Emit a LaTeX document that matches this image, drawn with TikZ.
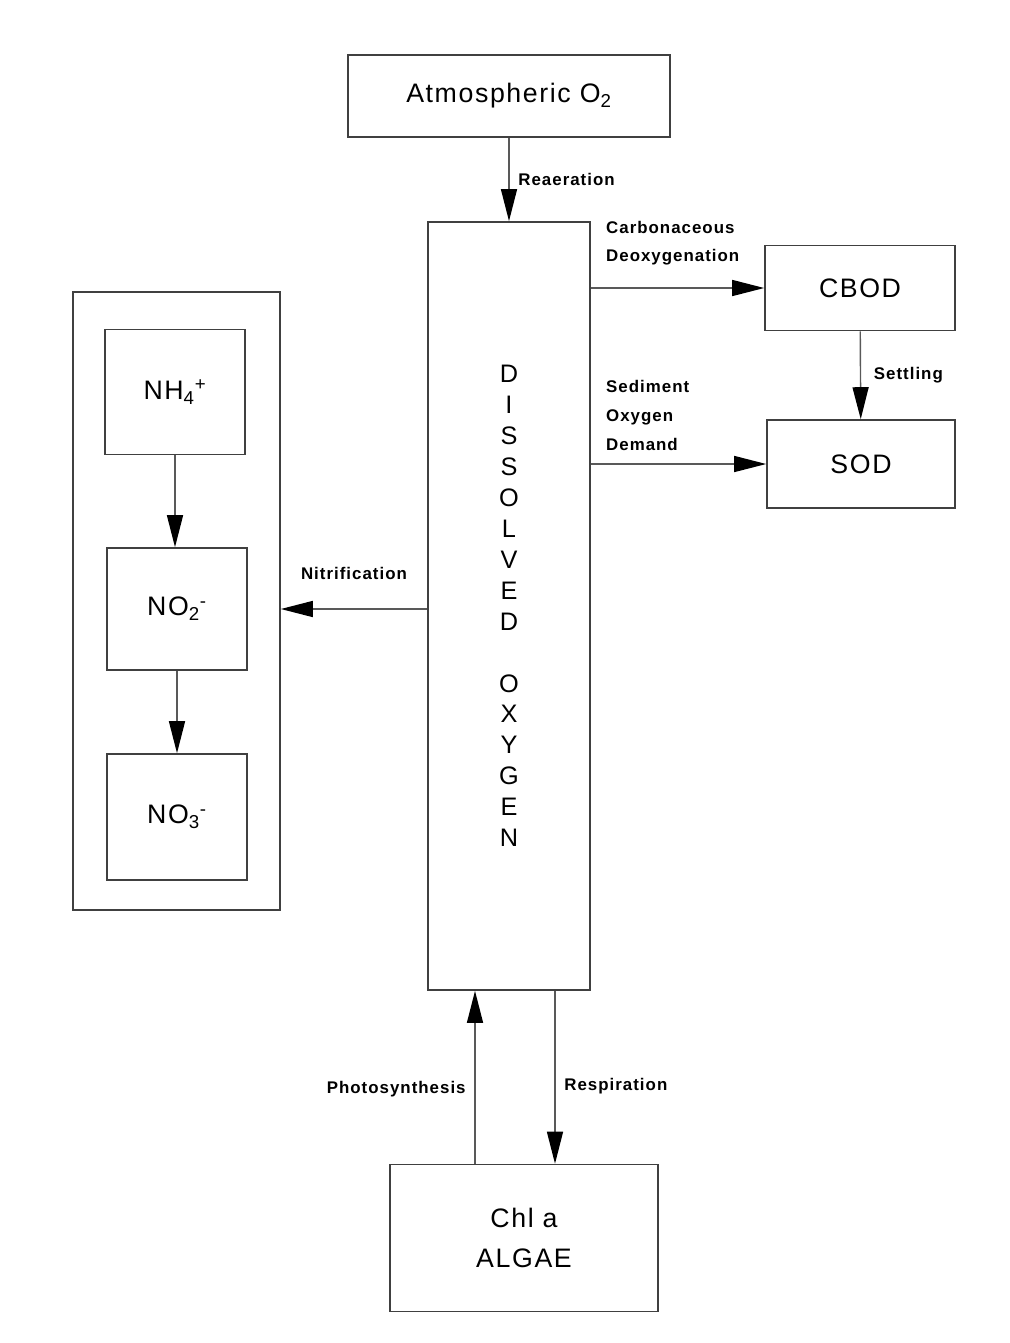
\documentclass[tikz,border=0pt]{standalone}
\usepackage{fontspec}
\setmainfont{Liberation Sans}[LetterSpace=6]
\usetikzlibrary{arrows.meta,positioning}
\newcommand{\ionsc}[2]{\textsubscript{#2}\textsuperscript{#1}}
\tikzset{
  >={Triangle[length=0.8cm,width=0.4cm,color=black]},
  line cap=round,
  every picture/.style={line width=1pt},
  box/.style={draw=black!75, line width=1.1pt, align=center, font=\fontsize{19}{28}\selectfont},
  arrow/.style={->, draw=black!65},
  lbl/.style={align=left, font=\fontsize{12}{20.5}\selectfont\bfseries}
}
\begin{document}
\begin{tikzpicture}[x=0.025cm,y=-0.025cm]
  \useasboundingbox (0,0) rectangle (1009,1343);

  % boxes
  \node[box,minimum width=8.05cm,minimum height=2.05cm] (atm) at (509,96) {Atmospheric O\textsubscript{2}};
  \node[box,minimum width=4.05cm,minimum height=19.2cm,font=\fontsize{18}{22}\selectfont] (do) at (509,606)
    {D\\I\\S\\S\\O\\L\\V\\E\\D\\[22pt]O\\X\\Y\\G\\E\\N};
  \node[box,minimum width=4.75cm,minimum height=2.125cm] (cbod) at (860,288) {CBOD};
  \node[box,minimum width=4.7cm,minimum height=2.2cm] (sod) at (861,464) {SOD};
  \node[box,minimum width=5.175cm,minimum height=15.45cm] (nbox) at (176.5,601) {};
  \node[box,minimum width=3.5cm,minimum height=3.125cm] (nh4) at (175,392) {NH\ionsc{+}{4}};
  \node[box,minimum width=3.5cm,minimum height=3.05cm] (no2) at (177,609) {NO\ionsc{-}{2}};
  \node[box,minimum width=3.5cm,minimum height=3.15cm] (no3) at (177,817) {NO\ionsc{-}{3}};
  \node[box,minimum width=6.7cm,minimum height=3.675cm] (algae) at (524,1238) {Chl a\\ALGAE};

  \coordinate (ph) at (475,1100);
  \coordinate (re) at (555,1100);

  % fluxes
  \draw[arrow] (atm) -- (do) node[lbl,midway,right,xshift=0.1cm] {Reaeration};
  \draw[arrow] (cbod.west -| do.east) -- (cbod.west)
    node[lbl,pos=0,above right,xshift=0.25cm,yshift=0.43cm] {Carbonaceous\\Deoxygenation};
  \draw[arrow] (sod.west -| do.east) -- (sod.west)
    node[lbl,pos=0,above right,xshift=0.25cm,yshift=0.2cm] {Sediment\\Oxygen\\Demand};
  \draw[arrow] (cbod) -- (sod) node[lbl,midway,right,xshift=0.2cm] {Settling};
  \draw[arrow] (do.west |- no2) -- (nbox.east |- no2) node[lbl,midway,above,yshift=0.6cm] {Nitrification};
  \draw[arrow] (nh4.south) -- (nh4.south |- no2.north);
  \draw[arrow] (no2.south) -- (no2.south |- no3.north);
  \draw[arrow] (algae.north -| ph) -- (do.south -| ph) node[lbl,pos=0.43,left,xshift=-0.1cm] {Photosynthesis};
  \draw[arrow] (do.south -| re) -- (algae.north -| re) node[lbl,pos=0.55,right,xshift=0.1cm] {Respiration};
\end{tikzpicture}
\end{document}
